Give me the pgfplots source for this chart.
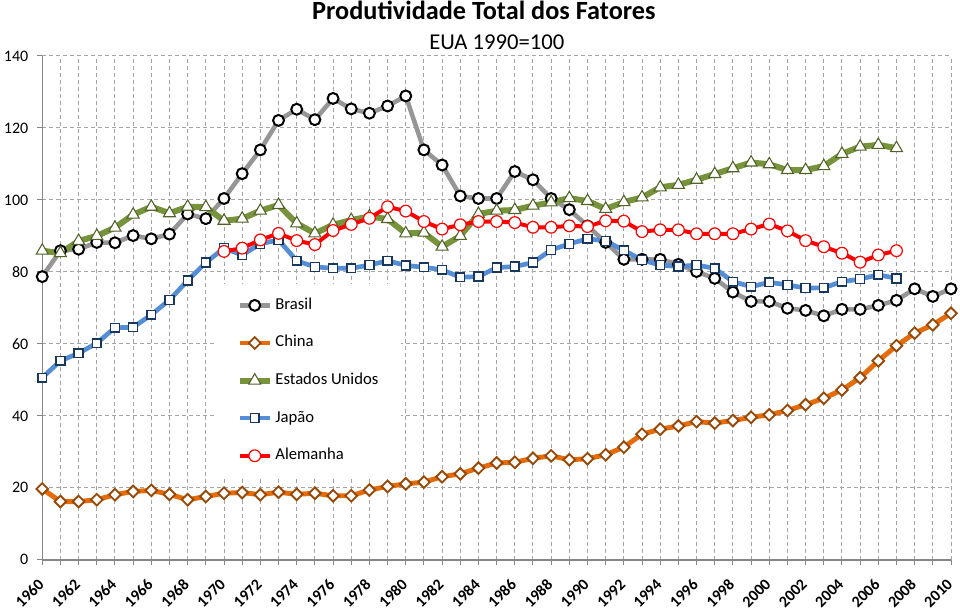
\documentclass[border=0pt]{standalone}
\usepackage{pgfplots}
\pgfplotsset{compat=1.18}
\usepackage{fontspec}
\setmainfont{Carlito}
\definecolor{brgray}{RGB}{150,150,150}
\definecolor{chorange}{RGB}{228,108,10}
\definecolor{chbrown}{RGB}{152,72,7}
\definecolor{usgreen}{RGB}{119,147,60}
\definecolor{usdark}{RGB}{79,98,40}
\definecolor{jpblue}{RGB}{85,142,213}
\definecolor{jpnavy}{RGB}{23,55,94}
\definecolor{dered}{RGB}{255,0,0}
\definecolor{gridgray}{RGB}{165,165,165}
\definecolor{axisgray}{RGB}{134,134,134}
\begin{document}
\begin{tikzpicture}
\begin{axis}[
  scale only axis, width=681.75pt, height=378pt,
  xmin=1960, xmax=2010, ymin=0, ymax=140,
  axis x line*=bottom, axis y line*=left,
  axis line style={axisgray, line width=1pt},
  xtick={1960,1962,...,2010}, minor xtick={1961,1963,...,2009},
  ytick={0,20,...,140},
  grid=both,
  major grid style={gridgray, dash pattern=on 3pt off 2.25pt, line width=0.75pt},
  minor grid style={gridgray, dash pattern=on 3pt off 2.25pt, line width=0.75pt},
  tick align=outside, major tick length=4pt, minor tick length=4pt,
  tick style={axisgray, line width=0.75pt},
  /pgf/number format/assume math mode=true,
  /pgf/number format/1000 sep={},
  yticklabel style={font=\fontsize{12}{14}\selectfont, black, xshift=-3pt},
  xticklabel style={font=\bfseries\fontsize{12}{14}\selectfont, xshift=1.5pt, yshift=-10pt, rotate=45, anchor=east, black},
  clip=false,
  legend cell align=left,
  legend image code/.code={\draw[mark repeat=2,mark phase=2] plot coordinates {(0pt,0pt) (11.25pt,0pt) (22.5pt,0pt)};},
  legend style={at={(axis cs:1969.44,76.7)}, anchor=north west, draw=none, fill=white,
    inner xsep=17pt, inner ysep=9pt, row sep=14.2pt, column sep=2pt,
    font=\fontsize{12.5}{14}\selectfont,
    nodes={inner xsep=0pt, inner ysep=1pt, text height=9pt, text depth=3pt}},
]
\addplot[brgray, line width=3.4pt, mark=*, mark size=4.1pt,
  mark options={draw=black, fill=white, line width=1.5pt, solid}] table {
1960 78.7
1961 85.9
1962 86.3
1963 88.2
1964 88.1
1965 90.1
1966 89.2
1967 90.5
1968 96.1
1969 94.8
1970 100.4
1971 107.3
1972 113.9
1973 122.1
1974 125.2
1975 122.3
1976 128.2
1977 125.3
1978 124.1
1979 126.1
1980 128.9
1981 113.9
1982 109.7
1983 101.1
1984 100.4
1985 100.4
1986 107.9
1987 105.6
1988 100.4
1989 97.3
1990 92.8
1991 88.2
1992 83.5
1993 83.5
1994 83.5
1995 82.1
1996 80.1
1997 78.2
1998 74.4
1999 71.8
2000 71.8
2001 69.9
2002 69.3
2003 67.8
2004 69.6
2005 69.6
2006 70.7
2007 72.1
2008 75.3
2009 73.2
2010 75.3
};
\addlegendentry{Brasil}
\addplot[chorange, line width=3.7pt, mark=square*, mark size=3.1pt,
  mark options={draw=chbrown, fill=white, line width=1.4pt, solid, rotate=45}] table {
1960 19.7
1961 16.2
1962 16.2
1963 16.7
1964 18.1
1965 19.0
1966 19.3
1967 18.2
1968 16.7
1969 17.6
1970 18.5
1971 18.7
1972 18.1
1973 18.8
1974 18.2
1975 18.5
1976 17.8
1977 17.8
1978 19.4
1979 20.4
1980 21.1
1981 21.6
1982 23.1
1983 23.9
1984 25.5
1985 26.9
1986 27.1
1987 28.2
1988 28.9
1989 27.8
1990 28.1
1991 29.2
1992 31.3
1993 34.9
1994 36.3
1995 37.2
1996 38.4
1997 38.0
1998 38.7
1999 39.6
2000 40.3
2001 41.5
2002 43.1
2003 44.9
2004 47.2
2005 50.6
2006 55.3
2007 59.5
2008 63.0
2009 65.3
2010 68.5
};
\addlegendentry{China}
\addplot[usgreen, line width=4.5pt, mark=triangle*, mark size=5.2pt,
  mark options={draw=usdark, fill=white, line width=0.8pt, solid}] table {
1960 85.9
1961 85.2
1962 88.6
1963 90.0
1964 92.3
1965 95.9
1966 98.1
1967 96.3
1968 98.1
1969 98.0
1970 94.2
1971 94.8
1972 97.0
1973 98.6
1974 93.5
1975 90.7
1976 93.1
1977 94.4
1978 95.4
1979 94.7
1980 90.7
1981 90.9
1982 87.0
1983 90.0
1984 96.1
1985 97.0
1986 97.2
1987 98.4
1988 99.3
1989 100.5
1990 99.7
1991 97.5
1992 99.4
1993 100.7
1994 103.5
1995 104.2
1996 105.6
1997 107.2
1998 108.8
1999 110.4
2000 109.9
2001 108.3
2002 108.3
2003 109.4
2004 112.8
2005 114.8
2006 115.3
2007 114.4
};
\addlegendentry{Estados Unidos}
\addplot[jpblue, line width=3.5pt, mark=square*, mark size=3.3pt,
  mark options={draw=jpnavy, fill=white, line width=1.1pt, solid}] table {
1960 50.6
1961 55.3
1962 57.4
1963 60.2
1964 64.5
1965 64.6
1966 68.1
1967 72.2
1968 77.6
1969 82.6
1970 86.6
1971 84.7
1972 87.8
1973 88.9
1974 83.1
1975 81.4
1976 81.0
1977 81.0
1978 81.9
1979 83.1
1980 81.8
1981 81.3
1982 80.6
1983 78.5
1984 78.7
1985 81.2
1986 81.5
1987 82.6
1988 86.1
1989 87.8
1990 89.2
1991 88.6
1992 86.0
1993 83.3
1994 81.9
1995 81.5
1996 81.9
1997 81.0
1998 77.3
1999 75.9
2000 77.1
2001 76.4
2002 75.5
2003 75.6
2004 77.3
2005 78.0
2006 79.2
2007 78.2
};
\addlegendentry{Japão}
\addplot[dered, line width=3pt, mark=*, mark size=4.4pt,
  mark options={draw=dered, fill=white, line width=0.9pt, solid}] table {
1970 85.7
1971 86.6
1972 88.9
1973 90.7
1974 88.7
1975 87.6
1976 91.5
1977 93.2
1978 94.9
1979 98.1
1980 96.9
1981 94.0
1982 91.9
1983 93.1
1984 94.0
1985 94.0
1986 93.7
1987 92.4
1988 92.4
1989 92.8
1990 92.6
1991 94.2
1992 94.1
1993 91.2
1994 91.7
1995 91.7
1996 90.6
1997 90.6
1998 90.6
1999 91.9
2000 93.3
2001 91.4
2002 88.7
2003 87.0
2004 85.2
2005 82.7
2006 84.7
2007 85.9
};
\addlegendentry{Alemanha}
\end{axis}
\node[anchor=base, font=\bfseries\fontsize{19.7}{22}\selectfont] at ([shift={(331.3pt,27pt)}]current axis.north west) {Produtividade Total dos Fatores};
\node[anchor=base, font=\fontsize{17}{19}\selectfont] at ([shift={(341pt,4.5pt)}]current axis.north west) {EUA 1990=100};
\pgfresetboundingbox
\path[use as bounding box] ([shift={(-31.7pt,-39.75pt)}]current axis.south west) rectangle ([shift={(6.75pt,42pt)}]current axis.north east);
\end{tikzpicture}
\end{document}
